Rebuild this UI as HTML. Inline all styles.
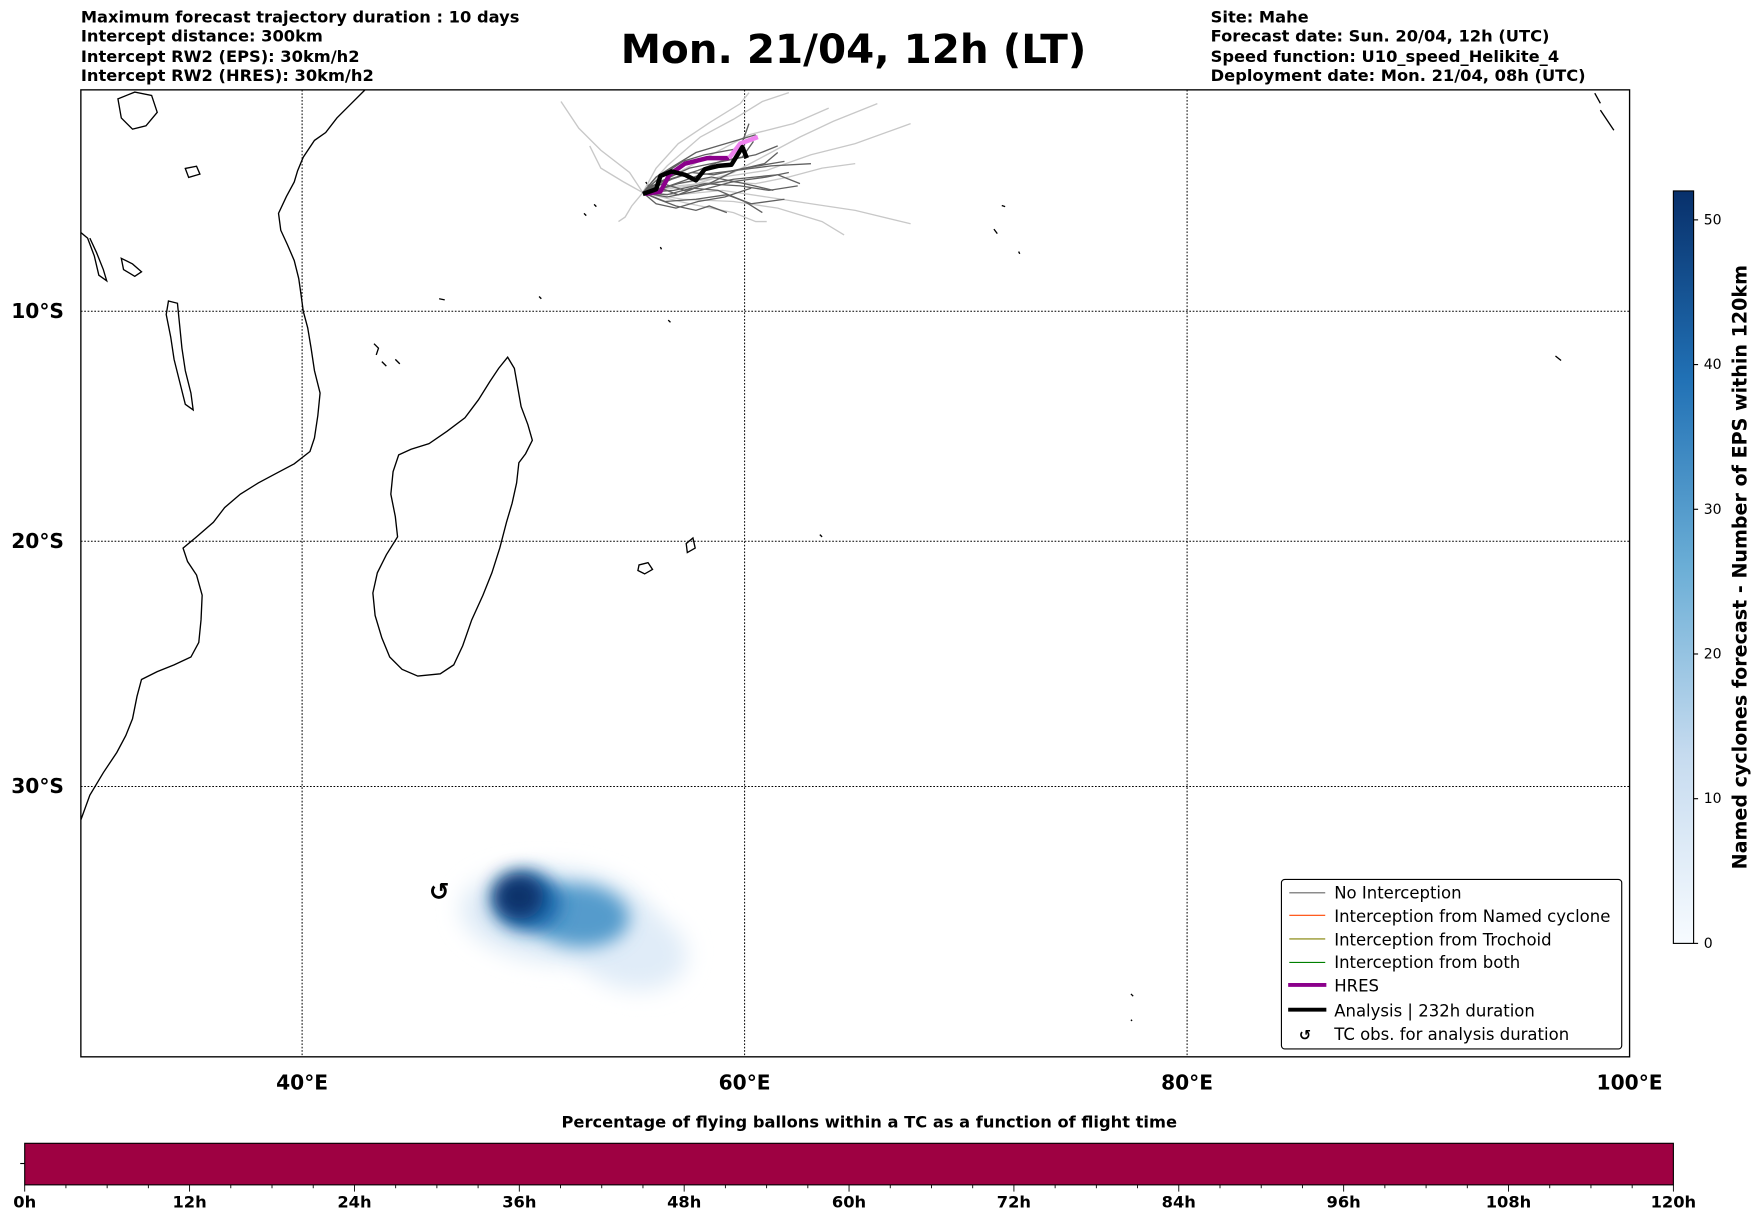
<!DOCTYPE html>
<html><head><meta charset="utf-8"><style>
html,body{margin:0;padding:0;background:#fff}
svg{display:block}
text{font-family:"DejaVu Sans","Liberation Sans",sans-serif}
</style></head><body>
<svg id="fig" width="1752" height="1213" viewBox="0 0 1560 1080.05" xmlns="http://www.w3.org/2000/svg">
<defs>
<filter id="blur" x="-50%" y="-50%" width="200%" height="200%"><feGaussianBlur stdDeviation="10"/></filter>
<filter id="blur2" x="-50%" y="-50%" width="200%" height="200%"><feGaussianBlur stdDeviation="8"/></filter>
<linearGradient id="cbgrad" x1="0" y1="1" x2="0" y2="0">
<stop offset="0" stop-color="#f7fbff"/><stop offset="0.25" stop-color="#c6dbef"/><stop offset="0.5" stop-color="#6baed6"/><stop offset="0.75" stop-color="#2171b5"/><stop offset="1" stop-color="#08306b"/>
</linearGradient>
<clipPath id="mapclip"><rect x="72" y="80" width="1379" height="861"/></clipPath>
</defs>
<g font-size="14.5" font-weight="bold">
<text x="72" y="20">Maximum forecast trajectory duration : 10 days</text>
<text x="72" y="37">Intercept distance: 300km</text>
<text x="72" y="55">Intercept RW2 (EPS):  30km/h2</text>
<text x="72" y="72">Intercept RW2 (HRES): 30km/h2</text>
</g>
<text x="760" y="56" text-anchor="middle" font-size="36" font-weight="bold">Mon. 21/04, 12h (LT)</text>
<g font-size="14.5" font-weight="bold">
<text x="1078" y="20">Site: Mahe</text>
<text x="1078" y="37">Forecast date: Sun. 20/04, 12h (UTC)</text>
<text x="1078" y="55">Speed function: U10_speed_Helikite_4</text>
<text x="1078" y="72">Deployment date: Mon. 21/04, 08h (UTC)</text>
</g>
<g id="map" clip-path="url(#mapclip)">
<g id="grid" stroke="#000" stroke-width="0.9" stroke-dasharray="1.5,1.5"></g>
<g fill="none" stroke="#000" stroke-width="1.2">
<path d="M325,80 L310,95 300,105 290,118 280,125 270,140 265,152 262,162 255,175 248,190 250,205 256,218 262,232 266,248 268,262 270,277 274,292 277,310 280,330 285,350 283,370 280,390 276,402 262,413 245,422 230,430 214,440 200,452 190,465 175,478 163,488 167,500 175,512 180,530 179,552 177,572 170,585 155,592 140,598 126,605 122,620 118,640 112,655 104,670 92,688 80,708 72,730"/>
<path d="M452,318 L458,328 461,345 464,362 470,378 474,392 468,404 462,412 460,430 456,448 451,465 445,488 438,510 430,530 420,552 412,575 404,592 392,600 372,602 358,596 347,585 340,568 334,548 332,528 336,510 344,494 354,478 352,460 348,440 350,420 355,405 366,400 382,395 398,384 414,372 426,356 436,340 444,328 Z"/>
<path d="M72,207 L78,212 84,228 88,245 95,250 92,240 86,225 80,212"/>
<path d="M150,268 L158,270 160,290 162,310 165,330 170,350 172,365 165,360 160,340 155,320 152,300 148,280 Z"/>
<path d="M105,88 L120,82 135,85 140,100 130,112 118,115 108,105 Z"/>
<path d="M108,230 L118,235 126,242 120,246 110,240 Z"/>
<path d="M165,150 L175,148 178,155 168,158 Z"/>
<path d="M569,503 L577,501 581,507 574,511 568,508 Z"/>
<path d="M611,484 L617,479 619,488 612,492 Z"/>
<path d="M333,306 L337,310 335,316 M340,322 L344,326 M352,320 L356,324"/>
<path d="M575,162 L577,165 M588,220 L589,222 M595,285 L597,287 M391,266 L396,267 M480,264 L482,266 M520,190 L522,192 M529,182 L531,184 M730,476 L732,478 M907,224 L908,226 M892,183 L895,184 M885,204 L888,208 M1385,317 L1390,321 M1007,885 L1009,887 M1007,908 L1008,909 M1420,83 L1425,92 M1425,98 L1437,116"/>
</g>
<g id="tracks" fill="none"></g>
<g id="blob"></g>
<text id="tcobs" font-size="22" font-weight="bold" text-anchor="middle">↺</text>
</g>
<rect x="72" y="80" width="1379" height="861" fill="none" stroke="#000" stroke-width="1.2"/>
<g id="axlabels" font-size="18" font-weight="bold"></g>
<g>
<rect x="1141" y="783" width="303" height="151" rx="3" fill="#fff" stroke="#000" stroke-width="1"/>
<g font-size="14.7">
<line x1="1148" y1="795" x2="1180" y2="795" stroke="#666" stroke-width="1"/><text x="1188" y="800">No Interception</text>
<line x1="1148" y1="815" x2="1180" y2="815" stroke="#ff4500" stroke-width="1"/><text x="1188" y="821">Interception from Named cyclone</text>
<line x1="1148" y1="836" x2="1180" y2="836" stroke="#808000" stroke-width="1"/><text x="1188" y="842">Interception from Trochoid</text>
<line x1="1148" y1="857" x2="1180" y2="857" stroke="#008000" stroke-width="1"/><text x="1188" y="862">Interception from both</text>
<line x1="1147" y1="877" x2="1181" y2="877" stroke="#8b008b" stroke-width="3.5"/><text x="1188" y="883">HRES</text>
<line x1="1147" y1="899" x2="1181" y2="899" stroke="#000" stroke-width="3.5"/><text x="1188" y="905">Analysis | 232h duration</text>
<text x="1162" y="926" text-anchor="middle" font-weight="bold" font-size="13">↺</text><text x="1188" y="926">TC obs. for analysis duration</text>
</g>
</g>
<g id="cbar">
<rect x="1490" y="170" width="18" height="670" fill="url(#cbgrad)" stroke="#000" stroke-width="1"/>
<text transform="translate(1555,505) rotate(-90)" text-anchor="middle" font-size="17" font-weight="bold">Named cyclones forecast - Number of EPS within 120km</text>
</g>
<text x="774" y="1004" text-anchor="middle" font-size="14.5" font-weight="bold">Percentage of flying ballons within a TC as a function of flight time</text>
<g id="tbar">
<rect x="22" y="1018" width="1468" height="37" fill="#9e0142" stroke="#000" stroke-width="1"/>
<line x1="18" y1="1036" x2="22" y2="1036" stroke="#000"/>
</g>
<script>
// ---- data ----
const lonTicks = [40, 60, 80, 100];
const lonTickLabels = ["40°E", "60°E", "80°E", "100°E"];
const latTicks = [10, 20, 30];
const latTickLabels = ["10°S", "20°S", "30°S"];
const analysisLon = [55.4, 56.0, 56.2, 56.7, 57.3, 57.8, 58.2, 58.8, 59.4, 59.9, 60.1];
const analysisLat = [4.76, 4.55, 3.95, 3.75, 3.9, 4.15, 3.65, 3.5, 3.45, 2.65, 3.15];
const hresLon = [55.5, 56.2, 56.6, 57.3, 58.3, 59.3, 59.8, 60.6];
const hresLat = [4.76, 4.65, 3.9, 3.4, 3.15, 3.15, 2.5, 2.2];
const darkMembers = [
 [[55.4,56.5,58,59.5,61,62],[4.7,4.9,4.6,4.2,4.0,3.8]],
 [[55.4,56.2,57.5,59,60.5,61.5],[4.7,4.2,3.6,3.3,3.0,2.6]],
 [[55.4,56,57,58.5,60,61.3],[4.7,4.6,4.3,4.0,4.3,4.6]],
 [[55.4,56.4,57.8,59.2,60.3,61.8],[4.7,5.1,5.0,4.8,5.2,5.0]],
 [[55.4,56.3,57.2,58.2,59.8,60.2],[4.7,3.9,3.3,3.0,2.7,1.6]],
 [[55.4,56.6,58,59.6,61.2,63],[4.7,4.4,3.9,3.7,3.5,3.4]],
 [[55.4,56.5,57.6,58.8,60,60.8],[4.7,4.8,4.5,4.6,5.1,5.6]],
 [[55.4,56,56.8,57.8,58.8,60.5],[4.7,4.0,3.5,2.9,2.6,2.1]],
 [[55.4,56.2,57,58,59.5,61.5,62.5],[4.7,4.5,4.8,4.4,4.1,3.9,4.3]],
 [[55.4,55.8,56.6,57.6,58.6,60,61.8],[4.7,4.4,4.1,3.8,3.9,3.6,3.3]],
 [[55.4,56.0,56.9,57.9,59.1,60.3],[4.7,5.2,5.4,5.1,4.9,4.5]],
 [[55.4,56.3,57.3,58.4,59.6,60.9,61.5],[4.7,4.3,4.6,4.3,3.7,3.4,2.9]],
 [[55.4,56.7,57.9,58.9,59.9,60.4],[4.7,4.1,3.7,3.3,3.1,2.4]],
 [[55.4,56.1,56.9,57.8,58.4,59.2],[4.7,5.0,5.3,5.5,5.3,5.6]],
 [[55.4,56.8,58.2,59.8,61.1,62.4],[4.7,4.6,4.3,4.4,4.6,4.4]]
];
const lightMembers = [
 [[55.4,54.8,53.5,52.5,51.7],[4.7,3.8,2.8,1.8,0.6]],
 [[55.4,54.5,53.5,53.0],[4.7,4.2,3.6,2.6]],
 [[55.4,56.5,58,59.5,60.8,62],[4.7,3.5,2.2,1.4,0.6,0.2]],
 [[55.4,57,59,61,63,65,67.5],[4.7,4.3,4.0,3.7,3.0,2.5,1.6]],
 [[55.4,57,59,61,63,65,67.5],[4.7,4.8,4.6,4.9,5.2,5.5,6.1]],
 [[55.4,57.5,59.5,61,62.5,64,66],[4.7,4.4,3.8,3.0,2.2,1.5,0.7]],
 [[55.4,56,57,58.5,59.8,60.2],[4.7,3.6,2.5,1.5,0.7,0.2]],
 [[55.4,57,58.8,60.5,62,63.5,65],[4.7,4.4,4.2,4.3,4.0,3.6,3.4]],
 [[55.4,57.2,59.5,61.5,63.5,64.5],[4.7,5.0,5.1,5.4,6.0,6.6]],
 [[55.4,56.8,58.5,60.2,62.2,63.8],[4.7,3.9,3.0,2.1,1.6,0.9]],
 [[55.4,54.9,54.6,54.3],[4.7,5.3,5.8,6.0]],
 [[55.4,57.5,59.5,60.5,61],[4.7,5.2,5.6,6.0,6.0]]
];
const blobLon = [51.5, 54.8, 52.5, 50.2, 49.8];
const blobLat = [34.9, 36.1, 34.9, 34.4, 34.2];
const blobValue = [7, 6, 30, 40, 52];
const tcObsLon = 46.2, tcObsLat = 34.0;
const cbarTicks = [0, 10, 20, 30, 40, 50];
const cbarMax = 52;
const timeMajor = [0, 12, 24, 36, 48, 60, 72, 84, 96, 108, 120];
const timeMinorStep = 3;
const timeMax = 120;

// ---- axes ----
const NS = "http://www.w3.org/2000/svg";
function merc(lat){ const r = lat*Math.PI/180; return Math.log(Math.tan(Math.PI/4 + r/2)); }
function xLon(lon){ return 72 + (lon - 30) * 1379 / 70; }
function yLat(latS){ return 78.5 + merc(latS) * 1132; }
function mk(tag, attrs, parent){ const e = document.createElementNS(NS, tag); for (const k in attrs) e.setAttribute(k, attrs[k]); parent.appendChild(e); return e; }
function blues(v){
  const t = Math.max(0, Math.min(1, v / cbarMax));
  const stops = [[247,251,255],[198,219,239],[107,174,214],[33,113,181],[8,48,107]];
  const p = t * 4, i = Math.min(3, Math.floor(p)), f = p - i;
  const c = stops[i].map((a, k) => Math.round(a + (stops[i+1][k] - a) * f));
  return "rgb(" + c.join(",") + ")";
}

const grid = document.getElementById("grid");
const axl = document.getElementById("axlabels");
lonTicks.forEach((lon, i) => {
  const x = xLon(lon);
  const l = mk("line", {x1:x, y1:80, x2:x, y2:941}, grid);
  
  
  const t = mk("text", {x:x, y:970, "text-anchor":"middle"}, axl);
  t.textContent = lonTickLabels[i];
  
  
});
latTicks.forEach((lat, i) => {
  const y = yLat(lat);
  const l = mk("line", {x1:72, y1:y, x2:1451, y2:y}, grid);
  
  
  const t = mk("text", {x:57, y:y + 6, "text-anchor":"end"}, axl);
  t.textContent = latTickLabels[i];
  
  
});

const tracks = document.getElementById("tracks");
function pts(lons, lats){ return lons.map((lo, i) => xLon(lo).toFixed(1) + "," + yLat(lats[i]).toFixed(1)).join(" "); }
lightMembers.forEach(m => {
  const p = mk("polyline", {points: pts(m[0], m[1]), stroke:"#c8c8c8", "stroke-width":1.2}, tracks);
  
  
});
darkMembers.forEach(m => {
  const p = mk("polyline", {points: pts(m[0], m[1]), stroke:"#606060", "stroke-width":1.2}, tracks);
  
  
});
const hres1 = mk("polyline", {points: pts(hresLon.slice(0,6), hresLat.slice(0,6)), stroke:"#8b008b", "stroke-width":4, "stroke-linejoin":"round"}, tracks);


const hres2 = mk("polyline", {points: pts(hresLon.slice(5), hresLat.slice(5)), stroke:"#ee82ee", "stroke-width":4, "stroke-linejoin":"round"}, tracks);


const an = mk("polyline", {points: pts(analysisLon, analysisLat), stroke:"#000", "stroke-width":4, "stroke-linejoin":"round"}, tracks);



const blob = document.getElementById("blob");
const rxs = [85, 52, 45, 30, 22], rys = [42, 36, 28, 26, 20];
blobLon.forEach((lo, i) => {
  const cx = xLon(lo), cy = yLat(blobLat[i]);
  const e = mk("ellipse", {cx:cx, cy:cy, rx:rxs[i], ry:rys[i], fill:blues(blobValue[i]), filter: i < 2 ? "url(#blur)" : "url(#blur2)", transform:"rotate(" + (i==1?15:5) + " " + cx + " " + cy + ")"}, blob);
  
  
});
const tc = document.getElementById("tcobs");
tc.setAttribute("x", xLon(tcObsLon));
tc.setAttribute("y", yLat(tcObsLat) + 8);

const cbar = document.getElementById("cbar");
cbarTicks.forEach(v => {
  const y = 840 - v / cbarMax * 670;
  mk("line", {x1:1508, y1:y, x2:1512, y2:y, stroke:"#000"}, cbar);
  const t = mk("text", {x:1517, y:y + 4, "font-size":12.5}, cbar);
  t.textContent = v;
  
  
});

const tbar = document.getElementById("tbar");
function xT(h){ return 22 + h / timeMax * 1468; }
for (let h = 0; h <= timeMax; h += timeMinorStep) {
  const major = h % 12 === 0;
  mk("line", {x1:xT(h), y1:1055, x2:xT(h), y2:1055 + (major ? 6 : 3), stroke:"#000", "stroke-width":0.8}, tbar);
}
timeMajor.forEach(h => {
  const t = mk("text", {x:xT(h), y:1075, "text-anchor":"middle", "font-size":14.5, "font-weight":"bold"}, tbar);
  t.textContent = h + "h";
  
  
});
</script>
</svg>
</body></html>
